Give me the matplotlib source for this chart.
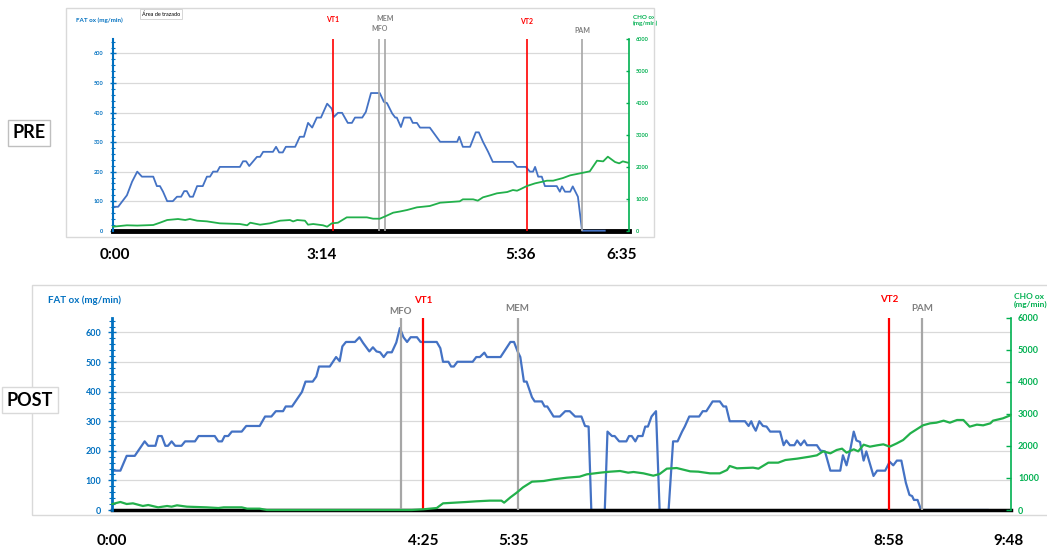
import matplotlib.pyplot as plt
from matplotlib.patches import Rectangle
from matplotlib.ticker import MultipleLocator

# figure size in pixels
W, H = 1047, 554

# ==========================================
# Data (x = % of test duration)
# ==========================================

# PRE test
pre_fat_x = [0, 1.0, 2.7, 3.7, 4.7, 5.6, 7.8, 8.5, 9.1, 9.7, 10.5, 11.6, 12.4, 13.2, 13.8, 14.3,
             14.9, 15.5, 16.3, 17.4, 18.2, 18.8, 19.4, 20.2, 20.7, 24.6, 25.2, 25.8, 26.4, 27.9,
             28.5, 29.1, 31.0, 31.6, 32.2, 32.9, 33.5, 35.3, 36.2, 37.0, 37.8, 38.6, 39.5, 40.3,
             41.5, 42.4, 42.8, 43.6, 44.4, 45.5, 46.3, 46.9, 48.3, 49.0, 50.0, 51.7, 52.5, 53.1,
             54.1, 54.7, 55.0, 55.8, 56.4, 57.6, 58.1, 58.9, 59.5, 61.4, 63.4, 66.7, 67.1, 67.8,
             69.2, 70.3, 70.9, 71.7, 72.7, 73.6, 77.5, 78.3, 80.0, 80.8, 81.4, 81.8, 82.4, 83.1,
             83.7, 86.0, 86.6, 87.0, 87.6, 88.6, 89.1, 90.1, 90.9, 95.3]
pre_fat_y = [81, 81, 120, 166, 200, 183, 183, 151, 151, 132, 100, 100, 115, 115, 134, 134,
             115, 115, 151, 151, 183, 183, 200, 200, 216, 216, 235, 235, 219, 250,
             250, 267, 267, 284, 265, 265, 284, 284, 318, 318, 365, 349, 383, 383,
             430, 413, 385, 399, 399, 365, 365, 383, 383, 402, 466, 466, 436, 432,
             397, 383, 383, 351, 383, 383, 365, 365, 349, 349, 301, 301, 318, 284,
             284, 333, 333, 301, 267, 233, 233, 216, 216, 200, 200, 216, 183, 183,
             151, 151, 132, 150, 132, 132, 150, 115, 0, 0]

pre_cho_x = [0, 2.7, 4.7, 7.8, 9.1, 10.5, 12.6, 14.0, 14.9, 16.3, 18.2, 20.7, 24.6, 26.0, 26.6,
             28.5, 30.4, 32.4, 34.3, 34.9, 35.7, 37.2, 37.8, 38.8, 40.7, 41.5, 42.4, 43.6, 45.3,
             49.2, 50.4, 51.7, 52.9, 54.3, 55.6, 57.0, 58.9, 61.4, 63.4, 67.2, 67.8, 69.8, 70.7,
             71.7, 73.1, 74.4, 76.4, 77.5, 78.3, 78.9, 80.2, 81.8, 84.1, 85.3, 87.2, 88.6, 90.5,
             92.4, 93.8, 95.0, 95.9, 97.3, 98.1, 98.8, 99.8]
pre_cho_y = [125, 169, 160, 178, 250, 334, 365, 334, 365, 313, 292, 230, 209, 169, 250,
             188, 230, 313, 334, 290, 334, 313, 188, 209, 169, 125, 230, 250, 417,
             417, 375, 375, 459, 563, 600, 647, 730, 772, 875, 918, 980, 980, 939,
             1043, 1105, 1168, 1209, 1271, 1250, 1292, 1396, 1480, 1563, 1563, 1646, 1730, 1792,
             1855, 2188, 2167, 2313, 2146, 2105, 2167, 2125]

pre_events = ["VT1", "MFO", "MEM", "VT2", "PAM"]
pre_event_x = [42.6, 51.6, 52.7, 80.2, 90.9]
pre_times = ["0:00", "3:14", "5:36", "6:35"]
pre_time_x = [0.4, 40.4, 78.9, 98.6]

# POST test
post_fat_x = [0, 0.9, 1.6, 2.5, 3.6, 4.0, 4.8, 5.1, 5.5, 5.9, 6.2, 6.6, 7.0, 7.7, 8.1, 9.2, 9.6,
              11.4, 11.8, 12.2, 12.5, 12.9, 13.3, 14.4, 14.9, 16.4, 17.0, 17.7, 18.2, 19.0, 19.3,
              20.0, 20.5, 21.1, 21.5, 22.3, 22.7, 23.0, 24.2, 24.9, 25.3, 25.6, 26.0, 27.0, 27.5,
              27.9, 28.6, 29.0, 29.4, 29.8, 30.2, 30.6, 31.1, 31.6, 32.0, 32.4, 32.8, 33.2, 33.9,
              34.3, 36.1, 36.5, 36.8, 37.4, 37.7, 38.0, 38.4, 40.1, 40.5, 40.9, 41.4, 41.7, 43.2,
              44.3, 44.7, 45.1, 45.4, 45.8, 46.1, 46.7, 47.0, 47.8, 48.1, 48.4, 49.1, 49.8, 50.4,
              50.9, 51.5, 52.2, 52.6, 53.0, 53.3, 54.8, 55.1, 55.6, 55.9, 56.4, 57.2, 57.5, 57.8,
              58.2, 58.5, 59.0, 59.3, 59.6, 60.0, 60.5, 60.9, 61.9, 62.4, 62.9, 63.4, 63.7, 64.2,
              65.3, 65.7, 66.1, 66.8, 67.6, 68.0, 68.3, 68.7, 70.4, 70.8, 71.1, 71.3, 71.6, 72.0,
              72.4, 72.8, 73.2, 74.3, 74.7, 75.0, 75.4, 75.9, 76.2, 76.6, 77.0, 77.3, 78.4, 78.8,
              79.3, 79.9, 81.0, 81.3, 81.7, 82.1, 82.5, 82.8, 83.2, 83.6, 83.9, 84.3, 84.7, 85.1,
              86.0, 86.5, 86.9, 87.3, 87.8, 88.3, 88.7, 89.0, 89.2, 89.6, 90.0, 97.4]
post_fat_y = [133, 133, 183, 183, 232, 217, 217, 250, 250, 217, 217, 232, 217, 217, 232, 232, 250,
              250, 232, 232, 250, 250, 265, 265, 284, 284, 316, 316, 334, 334, 350,
              350, 372, 399, 434, 434, 451, 485, 485, 517, 503, 553, 568, 568, 584,
              565, 536, 550, 536, 533, 517, 533, 533, 566, 615, 584, 568, 584, 584,
              568, 568, 547, 501, 501, 485, 485, 501, 501, 517, 517, 532, 517, 517,
              568, 568, 536, 517, 434, 434, 381, 367, 367, 350, 350, 316, 316, 334,
              334, 316, 316, 284, 282, 0, 0, 265, 250, 250, 232, 232, 250, 250,
              232, 250, 250, 282, 282, 316, 334, 0, 0, 232, 232, 265, 282, 316,
              316, 334, 334, 367, 367, 350, 350, 300, 300, 284, 300, 284, 268, 300,
              284, 282, 265, 265, 219, 235, 219, 219, 235, 219, 235, 219, 219, 201,
              198, 133, 133, 185, 151, 201, 265, 235, 230, 167, 198, 156, 115, 133,
              133, 163, 151, 167, 167, 92, 51, 47, 34, 34, 0, 0]

post_cho_x = [0, 0.9, 1.6, 2.3, 3.4, 4.0, 5.1, 6.1, 6.6, 7.2, 8.3, 10.5, 11.8, 12.4, 14.4, 15.0,
              16.4, 17.2, 33.3, 34.6, 36.1, 36.8, 39.4, 40.5, 42.0, 43.3, 43.6, 44.3, 45.0, 45.7,
              46.7, 48.0, 49.1, 50.6, 52.0, 52.8, 54.3, 55.4, 56.5, 57.4, 58.0, 59.1, 60.2, 60.9,
              61.7, 62.8, 64.3, 65.2, 66.5, 67.6, 68.4, 68.7, 69.5, 71.3, 71.9, 73.0, 74.1, 74.9,
              76.2, 77.6, 78.4, 79.1, 79.9, 80.6, 81.2, 81.7, 82.5, 83.0, 83.6, 84.3, 85.1, 85.8,
              86.5, 87.3, 88.0, 88.8, 89.5, 90.2, 91.0, 91.7, 92.5, 93.2, 94.0, 94.7, 95.4, 96.2,
              96.9, 97.7, 98.0, 99.1, 99.9]
post_cho_y = [187, 250, 187, 208, 125, 156, 83, 125, 104, 146, 104, 83, 62, 83, 83, 42,
              42, 0, 0, 21, 62, 208, 250, 271, 292, 292, 229, 395, 541, 707,
              884, 905, 957, 1009, 1040, 1113, 1165, 1196, 1217, 1165, 1186, 1144, 1071, 1123,
              1290, 1310, 1206, 1196, 1144, 1144, 1248, 1373, 1300, 1321, 1290, 1477, 1477, 1560,
              1602, 1664, 1706, 1830, 1768, 1872, 1914, 1789, 1893, 1830, 2038, 1976, 2018, 2049,
              1976, 2080, 2184, 2392, 2517, 2642, 2704, 2725, 2787, 2725, 2808, 2808, 2600, 2663,
              2642, 2704, 2787, 2860, 2950]

post_events = ["MFO", "VT1", "MEM", "VT2", "PAM"]
post_event_x = [32.1, 34.6, 45.1, 86.4, 90.1]
post_times = ["0:00", "4:25", "5:35", "8:58", "9:48"]
post_time_x = [0, 34.6, 44.6, 86.4, 99.7]

FAT_COLOR = "#4472C4"
CHO_COLOR = "#22B04B"
AXIS_BLUE = "#0070C0"
AXIS_GREEN = "#00B050"

plt.rcParams['font.family'] = ['Lato', 'DejaVu Sans']


def px_rect(left, top, right, bottom):
    return [left / W, 1 - bottom / H, (right - left) / W, (bottom - top) / H]


def draw_panel(fig, box, fat_x, fat_y, cho_x, cho_y, events, event_x, event_off,
               times, time_x, time_off, s):
    ax = fig.add_axes(px_rect(*box))
    ax2 = ax.twinx()

    ax.set_xlim(0, 100)
    ax.set_ylim(0, 650)
    ax2.set_ylim(0, 6000)
    ax.set_xticks([])

    ax.set_yticks(range(0, 700, 100))
    ax.yaxis.set_minor_locator(MultipleLocator(20))
    ax.tick_params(axis='y', which='major', direction='inout', length=s['tick'],
                   width=1, color=AXIS_BLUE, labelcolor=AXIS_BLUE,
                   labelsize=s['ticklabel'], pad=s['pad'])
    ax.tick_params(axis='y', which='minor', direction='inout', length=s['tick'] * 0.7,
                   width=0.8, color=AXIS_BLUE)
    for lab in ax.get_yticklabels():
        lab.set_fontweight('bold')

    ax2.set_yticks(range(0, 7000, 1000))
    ax2.tick_params(axis='y', direction='in', length=s['tick'] * 0.6, width=1,
                    color=AXIS_GREEN, labelcolor=AXIS_GREEN,
                    labelsize=s['ticklabel'], pad=s['pad'])
    for lab in ax2.get_yticklabels():
        lab.set_fontweight('bold')

    for a in (ax, ax2):
        for side in ('top', 'bottom'):
            a.spines[side].set_visible(False)
    ax.spines['right'].set_visible(False)
    ax2.spines['left'].set_visible(False)
    ax.spines['left'].set_color(AXIS_BLUE)
    ax.spines['left'].set_linewidth(s['spine'])
    ax2.spines['right'].set_color(AXIS_GREEN)
    ax2.spines['right'].set_linewidth(1.2)

    ax.yaxis.grid(True, color='#D9D9D9', lw=0.9)
    ax.set_axisbelow(True)

    ax.axhline(0, color='black', lw=s['base'], zorder=s['base_z'], clip_on=False)
    ax.plot(fat_x, fat_y, color=FAT_COLOR, lw=s['lw'], zorder=2, clip_on=False)
    ax2.plot(cho_x, cho_y, color=CHO_COLOR, lw=s['lw'], zorder=3, clip_on=False)

    for name, x, off in zip(events, event_x, event_off):
        col = 'red' if name.startswith('VT') else '#A6A6A6'
        ax2.axvline(x, color=col, lw=s['vline'], zorder=1)
        ax2.annotate(name, xy=(x, 1), xycoords=('data', 'axes fraction'),
                     xytext=(0, off), textcoords='offset pixels',
                     ha='center', va='center', fontsize=s['event'],
                     fontweight='bold', color='red' if name.startswith('VT') else '#7F7F7F')

    for t, x in zip(times, time_x):
        ax.annotate(t, xy=(x, 0), xycoords=('data', 'axes fraction'),
                    xytext=(0, -time_off), textcoords='offset pixels',
                    ha='center', va='center', fontsize=11, fontweight='bold',
                    annotation_clip=False)

    ax.annotate("FAT ox (mg/min)", xy=(0, 1), xycoords='axes fraction',
                xytext=(s['fat_dx'], s['title_dy']), textcoords='offset pixels',
                ha='left', va='center', fontsize=s['title'], fontweight='bold',
                color=AXIS_BLUE)
    ax2.annotate("CHO ox\n(mg/min)", xy=(1, 1), xycoords='axes fraction',
                 xytext=(s['cho_dx'], s['title_dy']), textcoords='offset pixels',
                 ha='left', va='center', fontsize=s['cho_title'], fontweight='bold',
                 color=AXIS_GREEN, linespacing=1.2, annotation_clip=False)
    return ax, ax2


fig = plt.figure(figsize=(W / 100, H / 100), dpi=100)

# outer frames of the two pasted charts
fig.add_artist(Rectangle((66 / W, 1 - 237 / H), (654 - 66) / W, (237 - 8) / H,
                         transform=fig.transFigure, fill=False, ec='#D9D9D9', lw=1))
fig.add_artist(Rectangle((32 / W, 1 - 515 / H), (1050 - 32) / W, (515 - 285) / H,
                         transform=fig.transFigure, fill=False, ec='#D9D9D9', lw=1))

pre_style = dict(tick=4, ticklabel=4, pad=5, spine=1.5, base=3.5, base_z=1.5, lw=1.3,
                 vline=1.2, event=5, title=4.5, cho_title=4.5, title_dy=18,
                 fat_dx=-37, cho_dx=4)
draw_panel(fig, (113, 38.7, 629, 230.7), pre_fat_x, pre_fat_y, pre_cho_x, pre_cho_y,
           pre_events, pre_event_x, [19, 10, 20, 17, 8],
           pre_times, pre_time_x, 24, pre_style)

post_style = dict(tick=6, ticklabel=6.5, pad=5, spine=2, base=2.5, base_z=2.5, lw=1.6,
                  vline=1.6, event=7, title=7, cho_title=6, title_dy=17,
                  fat_dx=-64, cho_dx=3)
draw_panel(fig, (112.3, 317.7, 1011, 510), post_fat_x, post_fat_y, post_cho_x, post_cho_y,
           post_events, post_event_x, [6, 17, 9, 18, 9],
           post_times, post_time_x, 31, post_style)

# panel tags
fig.text(29 / W, 1 - 133 / H, "PRE", ha='center', va='center', fontsize=13,
         fontweight='bold', bbox=dict(boxstyle='square,pad=0.25', fc='white', ec='#BFBFBF'))
fig.text(30 / W, 1 - 400 / H, "POST", ha='center', va='center', fontsize=13,
         fontweight='bold', bbox=dict(boxstyle='square,pad=0.25', fc='white', ec='#D9D9D9'))

# leftover tooltip from the source screenshot
fig.text(161 / W, 1 - 14 / H, "Área de trazado", ha='center', va='center', fontsize=4,
         bbox=dict(boxstyle='square,pad=0.4', fc='white', ec='#D0D0D0', lw=0.6))

fig.savefig("out.png", dpi=100)
